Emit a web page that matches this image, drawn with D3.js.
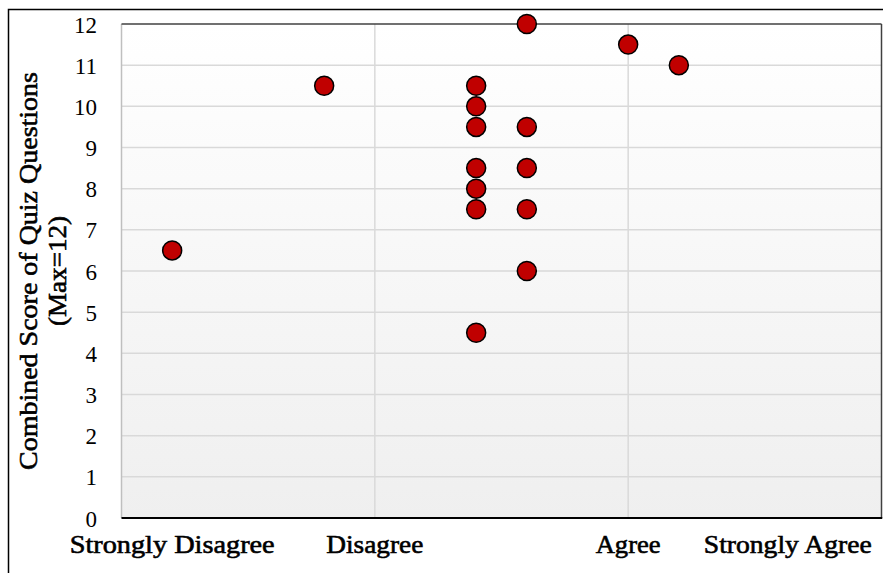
<!DOCTYPE html>
<html>
<head>
<meta charset="utf-8">
<script src="https://cdn.jsdelivr.net/npm/d3@7"></script>
<style>
  html, body { margin: 0; padding: 0; background: #ffffff; }
  svg { display: block; }
</style>
</head>
<body>
<svg id="chart" width="883" height="573"></svg>
<script>
// Responses: position along the agreement axis and combined quiz score
const responseX = [0.2, 0.8, 1.4, 1.4, 1.4, 1.4, 1.4, 1.4, 1.4, 1.6, 1.6, 1.6, 1.6, 1.6, 2.0, 2.2];
const scores    = [6.5, 10.5, 10.5, 10, 9.5, 8.5, 8, 7.5, 4.5, 12, 9.5, 8.5, 7.5, 6, 11.5, 11];

// Agreement category labels, where they sit on the x axis, and their set widths
const categories     = ["Strongly Disagree", "Disagree", "Agree", "Strongly Agree"];
const categoryPos    = [0.2, 1.0, 2.0, 2.63];
const categoryWidths = [205, 97, 65, 168];

const yTicks = [0, 1, 2, 3, 4, 5, 6, 7, 8, 9, 10, 11, 12];
const xGrid  = [1, 2];

const FONT = "'Liberation Serif', 'DejaVu Serif', serif";

const svg = d3.select("#chart");
const plot = { left: 121.5, right: 881.5, top: 24, bottom: 518 };

const x = d3.scaleLinear().domain([0, 3]).range([plot.left, plot.right]);
const y = d3.scaleLinear().domain([0, 12]).range([plot.bottom, plot.top]);

// Outer chart frame
svg.append("rect")
  .attr("x", 8.5).attr("y", 9.5)
  .attr("width", 1000).attr("height", 1000)
  .attr("fill", "none").attr("stroke", "#000").attr("stroke-width", 1.5);

// Plot background gradient
const defs = svg.append("defs");
const grad = defs.append("linearGradient")
  .attr("id", "bg").attr("x1", 0).attr("y1", 0).attr("x2", 0).attr("y2", 1);
grad.append("stop").attr("offset", "0%").attr("stop-color", "#ffffff");
grad.append("stop").attr("offset", "100%").attr("stop-color", "#efefef");

svg.append("rect")
  .attr("x", plot.left).attr("y", plot.top)
  .attr("width", plot.right - plot.left).attr("height", plot.bottom - plot.top)
  .attr("fill", "url(#bg)");

// Gridlines
svg.append("g")
  .selectAll("line")
  .data(yTicks.filter(d => d > 0 && d < 12))
  .join("line")
  .attr("x1", plot.left).attr("x2", plot.right)
  .attr("y1", d => y(d)).attr("y2", d => y(d))
  .attr("stroke", "#d9d9d9").attr("stroke-width", 1.5);

svg.append("g")
  .selectAll("line")
  .data(xGrid)
  .join("line")
  .attr("x1", d => x(d)).attr("x2", d => x(d))
  .attr("y1", plot.top).attr("y2", plot.bottom)
  .attr("stroke", "#d9d9d9").attr("stroke-width", 1.5);

// Plot area borders
svg.append("line")
  .attr("x1", plot.left).attr("x2", plot.left)
  .attr("y1", plot.top).attr("y2", plot.bottom)
  .attr("stroke", "#bfbfbf").attr("stroke-width", 1.5);
svg.append("line")
  .attr("x1", plot.left).attr("x2", plot.right)
  .attr("y1", plot.top).attr("y2", plot.top)
  .attr("stroke", "#404040").attr("stroke-width", 1.5);
svg.append("line")
  .attr("x1", plot.right).attr("x2", plot.right)
  .attr("y1", plot.top).attr("y2", plot.bottom)
  .attr("stroke", "#404040").attr("stroke-width", 1.5);

// Y axis labels
const yAxis = d3.axisLeft(y).tickValues(yTicks).tickSize(0).tickPadding(0).tickFormat(d3.format("d"));
const yg = svg.append("g").attr("transform", `translate(97,0)`).call(yAxis);
yg.select(".domain").remove();
yg.selectAll("text")
  .attr("font-family", FONT)
  .attr("font-size", 23)
  .attr("fill", "#000")
  .attr("dy", "0.35em");

// X axis line
svg.append("line")
  .attr("x1", plot.left).attr("x2", plot.right + 0.75)
  .attr("y1", plot.bottom).attr("y2", plot.bottom)
  .attr("stroke", "#000").attr("stroke-width", 2);

// Category labels (semi-bold look)
svg.append("g")
  .selectAll("text")
  .data(categories)
  .join("text")
  .attr("x", (d, i) => x(categoryPos[i]) - categoryWidths[i] / 2)
  .attr("y", 553)
  .attr("textLength", (d, i) => categoryWidths[i])
  .attr("lengthAdjust", "spacingAndGlyphs")
  .attr("font-family", FONT)
  .attr("font-size", 26)
  .attr("fill", "#000")
  .attr("stroke", "#000")
  .attr("stroke-width", 0.6)
  .text(d => d);

// Y axis title, two lines
const mid = (plot.top + plot.bottom) / 2;
const titleLines = [
  { text: "Combined Score of Quiz Questions", x: 37, width: 398 },
  { text: "(Max=12)", x: 66, width: 110 }
];
svg.append("g")
  .selectAll("text")
  .data(titleLines)
  .join("text")
  .attr("transform", d => `translate(${d.x},${mid}) rotate(-90)`)
  .attr("x", d => -d.width / 2)
  .attr("y", 0)
  .attr("textLength", d => d.width)
  .attr("lengthAdjust", "spacingAndGlyphs")
  .attr("font-family", FONT)
  .attr("font-size", 26)
  .attr("fill", "#000")
  .attr("stroke", "#000")
  .attr("stroke-width", 0.6)
  .text(d => d.text);

// Points
svg.append("g")
  .selectAll("circle")
  .data(scores)
  .join("circle")
  .attr("cx", (d, i) => x(responseX[i]))
  .attr("cy", d => y(d))
  .attr("r", 9.5)
  .attr("fill", "#c00000")
  .attr("stroke", "#000")
  .attr("stroke-width", 1.5);
</script>
</body>
</html>
